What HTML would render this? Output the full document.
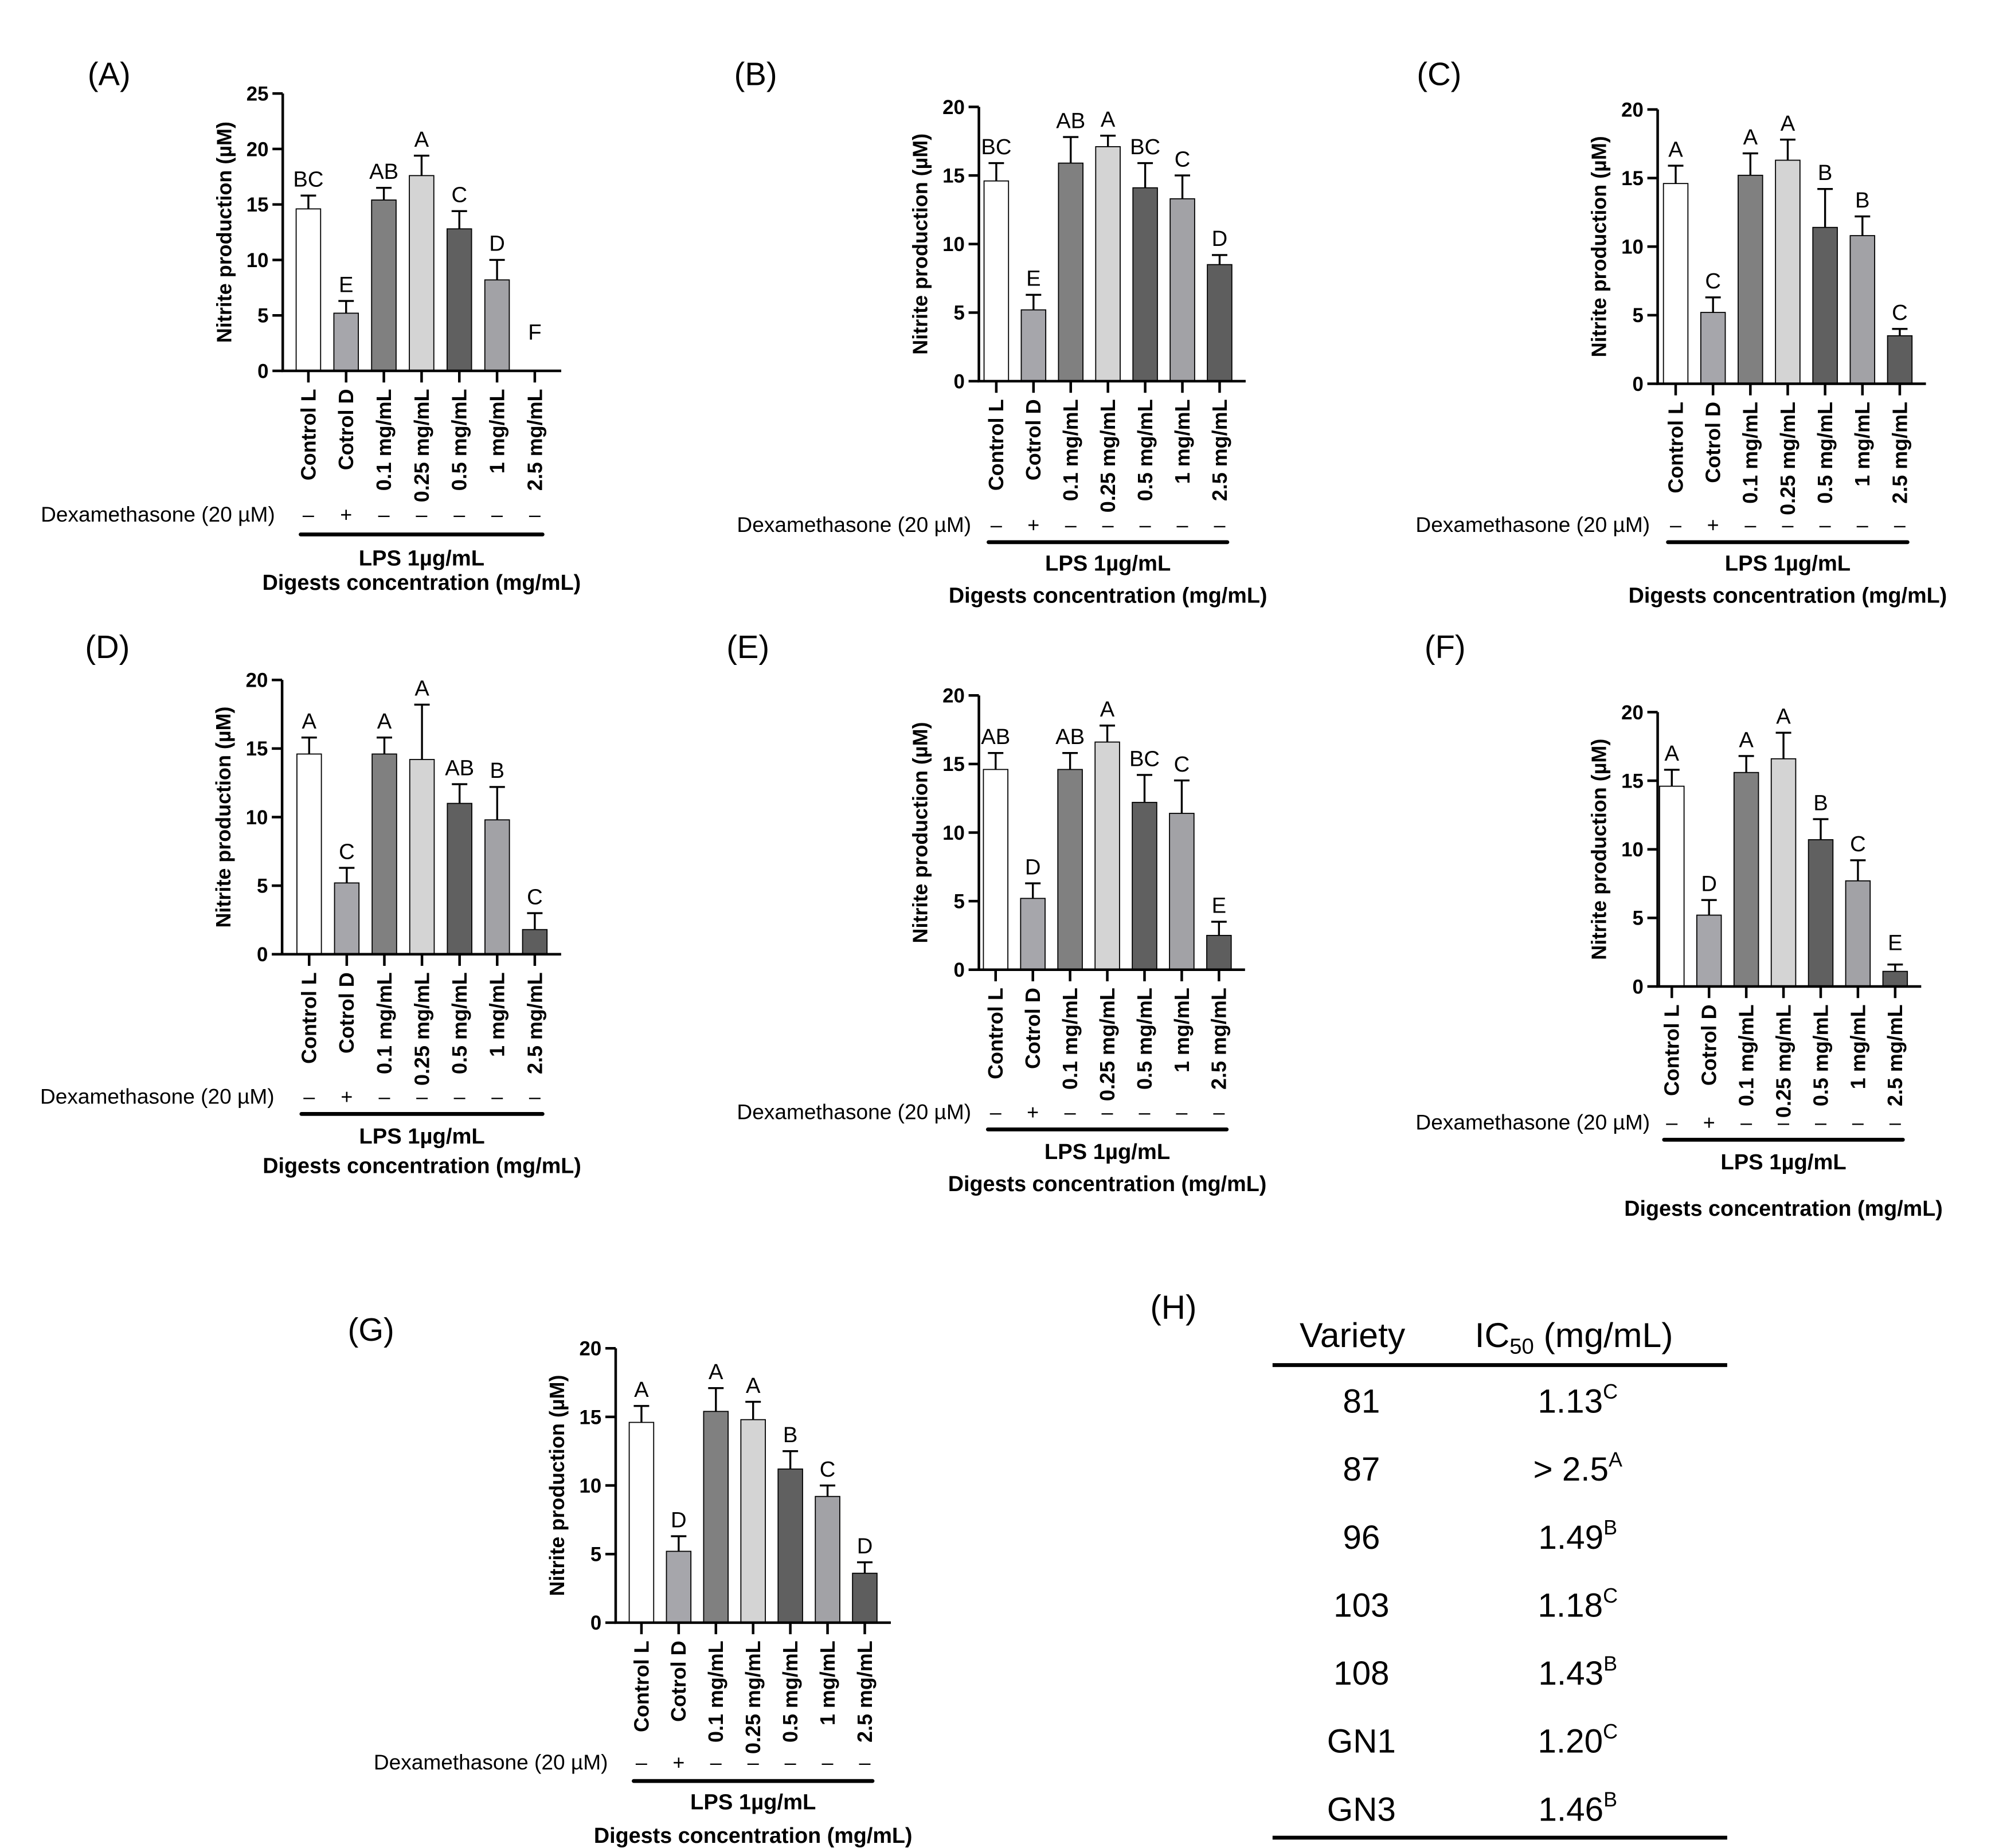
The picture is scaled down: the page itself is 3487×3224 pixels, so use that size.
<!DOCTYPE html>
<html><head><meta charset="utf-8"><style>
html,body{margin:0;padding:0;background:#fff;}
svg{display:block;font-family:"Liberation Sans",Arial,sans-serif;}
</style></head><body>
<svg id="fig" width="3487" height="3224" viewBox="0 0 1552 1435" xmlns="http://www.w3.org/2000/svg">
<rect width="1552" height="1435" fill="#fff"/>
<g id="table">
<text x="893" y="1024" font-size="26">(H)</text>
<text x="1050" y="1046" font-size="27" text-anchor="middle">Variety</text>
<text x="1222" y="1046" font-size="27" text-anchor="middle">IC<tspan font-size="17" dy="5">50</tspan><tspan dy="-5"> (mg/mL)</tspan></text>
<line x1="988" x2="1341" y1="1060" y2="1060" stroke="#000" stroke-width="3"/>
<line x1="988" x2="1341" y1="1427" y2="1427" stroke="#000" stroke-width="3"/>
</g>
</svg>
<script>
const NS="http://www.w3.org/2000/svg";
const svg=document.getElementById('fig');
const categories=["Control L","Cotrol D","0.1 mg/mL","0.25 mg/mL","0.5 mg/mL","1 mg/mL","2.5 mg/mL"];
const dexSigns=["–","+","–","–","–","–","–"];
const barColors=["#ffffff","#a6a6ab","#808080","#d4d4d4","#606060","#a2a2a6","#5e5e5e"];
const valuesA=[14.6,5.2,15.4,17.6,12.8,8.2,0];
const errA=[15.8,6.3,16.5,19.4,14.4,10.0,0];
const lettersA=["BC","E","AB","A","C","D","F"];
const valuesB=[14.6,5.2,15.9,17.1,14.1,13.3,8.5];
const errB=[15.9,6.3,17.8,17.9,15.9,15.0,9.2];
const lettersB=["BC","E","AB","A","BC","C","D"];
const valuesC=[14.6,5.2,15.2,16.3,11.4,10.8,3.5];
const errC=[15.9,6.3,16.8,17.8,14.2,12.2,4.0];
const lettersC=["A","C","A","A","B","B","C"];
const valuesD=[14.6,5.2,14.6,14.2,11.0,9.8,1.8];
const errD=[15.8,6.3,15.8,18.2,12.4,12.2,3.0];
const lettersD=["A","C","A","A","AB","B","C"];
const valuesE=[14.6,5.2,14.6,16.6,12.2,11.4,2.5];
const errE=[15.8,6.3,15.8,17.8,14.2,13.8,3.5];
const lettersE=["AB","D","AB","A","BC","C","E"];
const valuesF=[14.6,5.2,15.6,16.6,10.7,7.7,1.1];
const errF=[15.8,6.3,16.8,18.5,12.2,9.2,1.6];
const lettersF=["A","D","A","A","B","C","E"];
const valuesG=[14.6,5.2,15.4,14.8,11.2,9.2,3.6];
const errG=[15.8,6.3,17.1,16.1,12.5,10.0,4.4];
const lettersG=["A","D","A","A","B","C","D"];
const yTicksA=[0,5,10,15,20,25];
const yTicksOther=[0,5,10,15,20];
const varieties=["81","87","96","103","108","GN1","GN3"];
const ic50=["1.13","> 2.5","1.49","1.18","1.43","1.20","1.46"];
const ic50Letters=["C","A","B","C","B","C","B"];

function mk(tag,attrs,parent,text){const e=document.createElementNS(NS,tag);for(const k in attrs)e.setAttribute(k,attrs[k]);if(text!==undefined)e.textContent=text;(parent||svg).appendChild(e);return e;}

const panels=[
 {id:'a',label:'(A)',lx:68,ly:66,ax:219.5,y0:288,ytop:72.6,ymax:25,ticks:yTicksA,b0:239.4,sp:29.3,dex:400,lps:415,lpsT:439,dig:458,vals:valuesA,err:errA,let:lettersA},
 {id:'b',label:'(B)',lx:570,ly:66,ax:760,y0:296,ytop:83,ymax:20,ticks:yTicksOther,b0:773.5,sp:28.9,dex:408,lps:421,lpsT:443,dig:468,vals:valuesB,err:errB,let:lettersB},
 {id:'c',label:'(C)',lx:1100,ly:66,ax:1287,y0:298,ytop:85,ymax:20,ticks:yTicksOther,b0:1301,sp:29,dex:408,lps:421,lpsT:443,dig:468,vals:valuesC,err:errC,let:lettersC},
 {id:'d',label:'(D)',lx:66,ly:511,ax:219,y0:741,ytop:528,ymax:20,ticks:yTicksOther,b0:240,sp:29.2,dex:852,lps:865,lpsT:888,dig:911,vals:valuesD,err:errD,let:lettersD},
 {id:'e',label:'(E)',lx:564,ly:511,ax:760,y0:753,ytop:540,ymax:20,ticks:yTicksOther,b0:773,sp:28.9,dex:864,lps:877,lpsT:900,dig:925,vals:valuesE,err:errE,let:lettersE},
 {id:'f',label:'(F)',lx:1106,ly:511,ax:1287,y0:766,ytop:553,ymax:20,ticks:yTicksOther,b0:1298,sp:28.9,dex:872,lps:885,lpsT:908,dig:944,vals:valuesF,err:errF,let:lettersF},
 {id:'g',label:'(G)',lx:270,ly:1041,ax:478,y0:1260,ytop:1047,ymax:20,ticks:yTicksOther,b0:498,sp:28.9,dex:1369,lps:1383,lpsT:1405,dig:1431,vals:valuesG,err:errG,let:lettersG}
];

panels.forEach(p=>{
 const g=mk('g',{});
 
 
 const yS=v=>p.y0-(v/p.ymax)*(p.y0-p.ytop);
 const xS=i=>p.b0+i*p.sp;
 const bw=19;
 const pl=mk('text',{x:p.lx,y:p.ly,'font-size':25},g,p.label);
 
 
 p.vals.forEach((v,i)=>{
  const x=xS(i);
  if(v>0){
   const r=mk('rect',{x:x-bw/2,y:yS(v),width:bw,height:p.y0-yS(v),fill:barColors[i],stroke:'#000','stroke-width':0.8},g);
   
   
   const e=mk('path',{d:`M${x},${yS(v)}V${yS(p.err[i])}M${x-6},${yS(p.err[i])}H${x+6}`,stroke:'#000','stroke-width':1.5,fill:'none'},g);
   
   
  }
  const topV=Math.max(p.err[i],2);
  const lt=mk('text',{x:x,y:yS(topV)-7,'font-size':17,'text-anchor':'middle'},g,p.let[i]);
  
  
  mk('line',{x1:x,x2:x,y1:p.y0,y2:p.y0+9,stroke:'#000','stroke-width':2},g);
  const cl=mk('text',{transform:`translate(${x+5.5},${p.y0+14}) rotate(-90)`,'font-size':16,'font-weight':'bold','text-anchor':'end'},g,categories[i]);
  
  
  const ds=mk('text',{x:x,y:p.dex+5,'font-size':16,'text-anchor':'middle'},g,dexSigns[i]);
  
  
 });
 const xe=xS(6)+p.sp*0.7;
 const ax=mk('path',{d:`M${p.ax},${p.ytop}V${p.y0}H${xe}`,stroke:'#000','stroke-width':2,fill:'none'},g);
 
 
 p.ticks.forEach(t=>{
  mk('line',{x1:p.ax-8,x2:p.ax,y1:yS(t),y2:yS(t),stroke:'#000','stroke-width':2},g);
  const tl=mk('text',{x:p.ax-11,y:yS(t)+5.5,'font-size':15.5,'font-weight':'bold','text-anchor':'end'},g,t);
  
  
 });
 const yt=mk('text',{transform:`translate(${p.ax-40},${(p.y0+p.ytop)/2}) rotate(-90)`,'font-size':16,'font-weight':'bold','text-anchor':'middle'},g,'Nitrite production (µM)');
 
 
 const dl=mk('text',{x:p.ax-6,y:p.dex+5,'font-size':16.5,'text-anchor':'end'},g,'Dexamethasone (20 µM)');
 
 
 const lb=mk('line',{x1:xS(0)-6,x2:xS(6)+6,y1:p.lps,y2:p.lps,stroke:'#000','stroke-width':3,'stroke-linecap':'round'},g);
 
 
 const cx=(xS(0)+xS(6))/2;
 const lt2=mk('text',{x:cx,y:p.lpsT,'font-size':17,'font-weight':'bold','text-anchor':'middle'},g,'LPS 1µg/mL');
 
 
 const dg=mk('text',{x:cx,y:p.dig,'font-size':16.8,'font-weight':'bold','text-anchor':'middle'},g,'Digests concentration (mg/mL)');
 
 
});

const tbl=document.getElementById('table');
varieties.forEach((v,i)=>{
 const y=1097+i*52.8;
 const a=mk('text',{x:1057,y:y,'font-size':26,'text-anchor':'middle'},tbl,v);
 
 
 const b=mk('text',{x:1225,y:y,'font-size':26,'text-anchor':'middle'},tbl);
 
 
 mk('tspan',{},b,ic50[i]);
 mk('tspan',{'font-size':16,dy:-11},b,ic50Letters[i]);
});
</script>
</body></html>
